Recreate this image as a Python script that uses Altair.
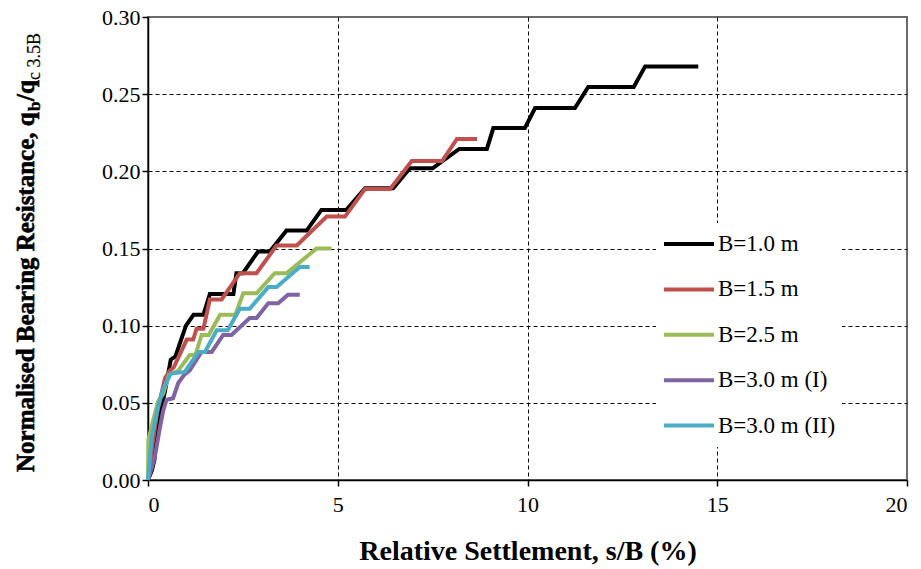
import altair as alt
import pandas as pd

series_names = ["B=1.0 m", "B=1.5 m", "B=2.5 m", "B=3.0 m (I)", "B=3.0 m (II)"]
series_colors = ["#000000", "#C0504D", "#9BBB59", "#8064A2", "#4BACC6"]

b10_x = [0, 0.1, 0.17, 0.22, 0.3, 0.45, 0.6, 0.72, 1.0, 1.2, 1.46, 1.63, 2.25, 2.33, 2.5, 2.9, 3.21, 3.65, 4.18,
         4.57, 5.23, 5.72, 6.46, 6.9, 7.5, 8.2, 8.93, 9.1, 9.93, 10.2, 11.25, 11.6, 12.8, 13.1, 14.5]
b10_y = [0, 0.006, 0.013, 0.028, 0.04, 0.058, 0.078, 0.08, 0.1, 0.107, 0.107, 0.1205, 0.1205, 0.134, 0.134, 0.148,
         0.148, 0.1616, 0.1616, 0.175, 0.175, 0.189, 0.189, 0.202, 0.202, 0.2145, 0.2145, 0.228, 0.228, 0.241, 0.241,
         0.2547, 0.2547, 0.268, 0.268]

b15_x = [0, 0.1, 0.25, 0.45, 0.58, 0.68, 1.02, 1.19, 1.28, 1.46, 1.63, 1.94, 2.42, 2.86, 3.39, 3.92, 4.71, 5.19,
         5.72, 6.38, 6.95, 7.75, 8.14, 8.67]
b15_y = [0, 0.02, 0.045, 0.066, 0.071, 0.073, 0.091, 0.091, 0.098, 0.098, 0.117, 0.117, 0.134, 0.134, 0.152, 0.152,
         0.1707, 0.1707, 0.1886, 0.1886, 0.2067, 0.2067, 0.221, 0.221]

b25_x = [0, 0.01, 0.14, 0.27, 0.4, 0.55, 0.8, 1.1, 1.25, 1.41, 1.6, 1.9, 2.3, 2.51, 2.86, 3.34, 3.65, 4.44, 4.84]
b25_y = [0, 0.026, 0.039, 0.051, 0.056, 0.068, 0.071, 0.081, 0.081, 0.094, 0.094, 0.107, 0.107, 0.121, 0.121,
         0.134, 0.134, 0.150, 0.150]

b30a_x = [0, 0.1, 0.18, 0.3, 0.4, 0.49, 0.66, 0.8, 0.95, 1.1, 1.41, 1.68, 1.98, 2.2, 2.68, 2.86, 3.17, 3.43, 3.69, 4.0]
b30a_y = [0, 0.008, 0.015, 0.032, 0.045, 0.052, 0.053, 0.063, 0.068, 0.071, 0.083, 0.083, 0.094, 0.094, 0.105,
          0.105, 0.1145, 0.1145, 0.120, 0.120]

b30b_x = [0, 0.05, 0.1, 0.27, 0.4, 0.6, 0.97, 1.33, 1.5, 1.81, 2.1, 2.42, 2.68, 3.17, 3.39, 4.0, 4.26]
b30b_y = [0, 0.015, 0.028, 0.048, 0.059, 0.069, 0.070, 0.083, 0.083, 0.097, 0.097, 0.111, 0.111, 0.125, 0.125,
          0.138, 0.138]

x_ticks = [0, 5, 10, 15, 20]
y_ticks = [0.0, 0.05, 0.10, 0.15, 0.20, 0.25, 0.30]

x_title = "Relative Settlement, s/B (%)"
y_title_parts = ["Normalised Bearing Resistance, q", "b", "/q", "c 3.5B"]

rows = []
for name, xs, ys in zip(series_names,
                        [b10_x, b15_x, b25_x, b30a_x, b30b_x],
                        [b10_y, b15_y, b25_y, b30a_y, b30b_y]):
    for i, (xv, yv) in enumerate(zip(xs, ys)):
        rows.append({"series": name, "s": xv, "q": yv, "idx": i})
df = pd.DataFrame(rows)

FONT = "Times New Roman, Liberation Serif, serif"
W, H = 759, 463

lines = alt.Chart(df).mark_line(strokeWidth=4, clip=False).encode(
    x=alt.X("s:Q", scale=alt.Scale(domain=[0, 20], nice=False),
            axis=alt.Axis(values=x_ticks, title=x_title, format="d",
                          titleFont=FONT, titleFontSize=28, titleFontWeight="bold",
                          titleColor="black", titleY=79, titleBaseline="alphabetic",
                          labelPadding=8,
                          gridOpacity={"condition": {"test": "datum.value <= 0 || datum.value >= 20", "value": 0},
                                       "value": 1})),
    y=alt.Y("q:Q", scale=alt.Scale(domain=[0, 0.30], nice=False),
            axis=alt.Axis(values=y_ticks, title=None, format=".2f", labelPadding=2,
                          gridOpacity={"condition": {"test": "datum.value <= 0 || datum.value >= 0.3", "value": 0},
                                       "value": 1})),
    color=alt.Color("series:N", scale=alt.Scale(domain=series_names, range=series_colors),
                    legend=alt.Legend(title=None, orient="none", legendX=508, legendY=206,
                                      symbolType="stroke", symbolSize=2500, symbolStrokeWidth=4,
                                      labelFont=FONT, labelFontSize=23, labelColor="black",
                                      labelOffset=2, labelLimit=0, fillColor="white", padding=6,
                                      clipHeight=30, rowPadding=15.4, symbolOffset=0)),
    order=alt.Order("idx:Q"),
    detail="series:N",
)


def title_part(text, size, weight, xpx, ypx, sw):
    return alt.Chart(pd.DataFrame({"t": [text]})).mark_text(
        angle=270, align="left", baseline="alphabetic",
        font=FONT, fontSize=size, fontWeight=weight, color="black",
        stroke="black", strokeWidth=sw
    ).encode(text="t:N", x=alt.value(xpx), y=alt.value(ypx))


ytitle_main = title_part(y_title_parts[0], 25, "bold", -114, 455, 0.6)
ytitle_b = title_part(y_title_parts[1], 17, "bold", -108, 94, 0.4)
ytitle_q = title_part(y_title_parts[2], 25, "bold", -114, 84, 0.6)
ytitle_c = title_part(y_title_parts[3], 18, "normal", -108, 63, 0.2)

chart = alt.layer(lines, ytitle_main, ytitle_b, ytitle_q, ytitle_c).properties(
    width=W, height=H,
    autosize=alt.AutoSizeParams(type="none"),
    padding={"left": 148, "top": 17, "right": 14, "bottom": 89},
    background="white",
).configure_view(
    stroke="#6a6a6a", strokeWidth=2
).configure_axis(
    labelFont=FONT, labelFontSize=22, labelColor="black",
    domainColor="black", domainWidth=1.5,
    tickColor="black", tickSize=6, tickWidth=1.5,
    grid=True, gridColor="black", gridDash=[4, 3], gridWidth=1,
)

chart.save("out.html", embed_options={"renderer": "svg", "actions": False})
